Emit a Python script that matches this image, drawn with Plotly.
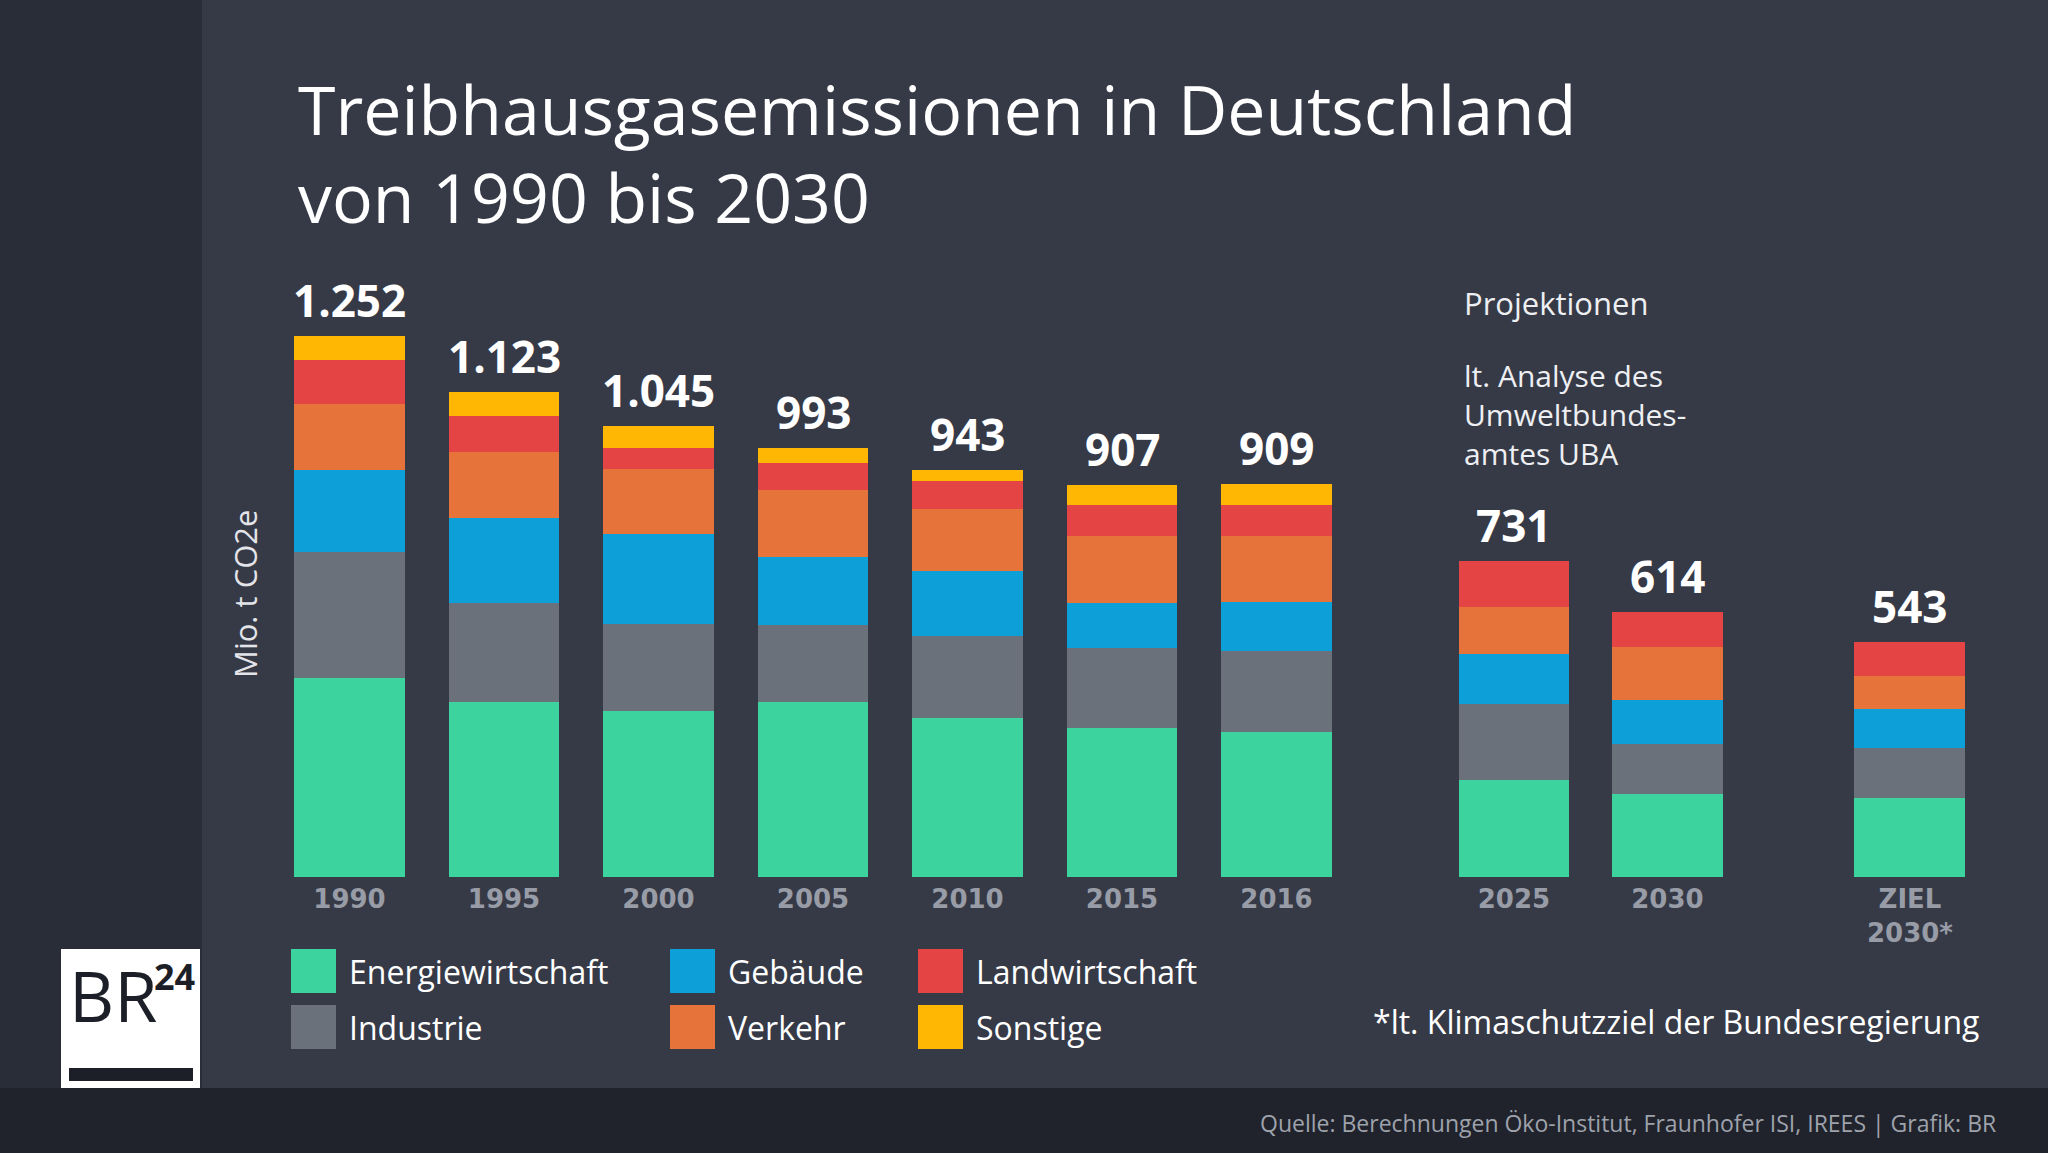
import plotly.graph_objects as go

# ---------------- data ----------------
categories = ["1990", "1995", "2000", "2005", "2010", "2015", "2016", "2025", "2030", "ZIEL<br>2030*"]
totals = [1252, 1123, 1045, 993, 943, 907, 909, 731, 614, 543]

energiewirtschaft = [460, 405, 384, 405, 368, 345, 336, 224, 192, 183]
industrie = [292, 229, 201, 178, 189, 186, 188, 177, 117, 115]
gebaeude = [190, 197, 209, 157, 151, 104, 112, 116, 100, 92]
verkehr = [153, 153, 150, 155, 143, 154, 153, 107, 124, 75]
landwirtschaft = [102, 84, 48, 64, 65, 73, 73, 107, 81, 78]
sonstige = [55, 55, 53, 34, 27, 45, 47, 0, 0, 0]

series_names = ["Energiewirtschaft", "Industrie", "Gebäude", "Verkehr", "Landwirtschaft", "Sonstige"]
series_values = [energiewirtschaft, industrie, gebaeude, verkehr, landwirtschaft, sonstige]
series_colors = ["#3cd39f", "#6b717b", "#0c9fd8", "#e5733a", "#e54444", "#ffb703"]

# ---------------- layout helpers ----------------
W, H = 2048, 1153
FONT = "Open Sans"
x_slots = [0, 1, 2, 3, 4, 5, 6, 7.537, 8.53, 10.1]  # slot positions on the x axis
unit_px = 154.5
x_min = -349.5 / unit_px
x_max = x_min + W / unit_px
base_px = 877
px_per_val = 0.432


def px(x):
    return x / W


def py(y):
    return 1 - y / H


fig = go.Figure()
for name, vals, col in zip(series_names, series_values, series_colors):
    fig.add_trace(go.Bar(
        x=x_slots, y=vals, name=name, width=0.718,
        marker=dict(color=col, line=dict(width=0)),
        showlegend=False, hoverinfo="skip",
    ))

annotations = []
# value labels on top of the bars
for xs, t in zip(x_slots, totals):
    annotations.append(dict(
        x=xs, y=t, xref="x", yref="y", yanchor="bottom", yshift=4,
        text="<b>" + f"{t:,}".replace(",", ".") + "</b>", showarrow=False,
        font=dict(family=FONT, size=44, color="#ffffff"),
    ))

shapes = [
    # left dark strip
    dict(type="rect", xref="paper", yref="paper", x0=0, x1=px(202), y0=0, y1=1,
         fillcolor="#292d38", line=dict(width=0), layer="below"),
    # bottom dark strip
    dict(type="rect", xref="paper", yref="paper", x0=0, x1=1, y0=0, y1=py(1088),
         fillcolor="#20232b", line=dict(width=0), layer="below"),
    # logo
    dict(type="rect", xref="paper", yref="paper", x0=px(61), x1=px(200), y0=py(1088), y1=py(949),
         fillcolor="#ffffff", line=dict(width=0), layer="above"),
    dict(type="rect", xref="paper", yref="paper", x0=px(69), x1=px(193), y0=py(1081), y1=py(1068),
         fillcolor="#1c1f27", line=dict(width=0), layer="above"),
]

# title (two lines in one text block)
annotations.append(dict(x=px(296), y=py(153), xref="paper", yref="paper", xanchor="left", yanchor="middle",
                        text="Treibhausgasemissionen in Deutschland<br>von 1990 bis 2030", showarrow=False,
                        align="left", font=dict(family=FONT, size=68, color="#ffffff")))
# y-axis label
annotations.append(dict(x=px(245), y=py(594), xref="paper", yref="paper", xanchor="center", yanchor="middle",
                        text="Mio. t CO2e", textangle=-90, showarrow=False,
                        font=dict(family=FONT, size=31, color="#e4e5ea")))
# projections notes
annotations.append(dict(x=px(1462), y=py(303), xref="paper", yref="paper", xanchor="left", yanchor="middle",
                        text="Projektionen", showarrow=False,
                        font=dict(family=FONT, size=31, color="#eeeff2")))
annotations.append(dict(x=px(1462), y=py(414), xref="paper", yref="paper", xanchor="left", yanchor="middle",
                        text="lt. Analyse des<br>Umweltbundes-<br>amtes UBA", showarrow=False, align="left",
                        font=dict(family=FONT, size=30, color="#eeeff2")))
# footnote
annotations.append(dict(x=px(1981), y=py(1021), xref="paper", yref="paper", xanchor="right", yanchor="middle",
                        text="*lt. Klimaschutzziel der Bundesregierung", showarrow=False,
                        font=dict(family=FONT, size=32, color="#ffffff")))
# source
annotations.append(dict(x=px(1998), y=py(1123), xref="paper", yref="paper", xanchor="right", yanchor="middle",
                        text="Quelle: Berechnungen Öko-Institut, Fraunhofer ISI, IREES | Grafik: BR", showarrow=False,
                        font=dict(family=FONT, size=23, color="#9ea2ab")))
# logo text
annotations.append(dict(x=px(113), y=py(995), xref="paper", yref="paper", xanchor="center", yanchor="middle",
                        text="BR", showarrow=False,
                        font=dict(family=FONT, size=70, color="#1c1f27")))
annotations.append(dict(x=px(174), y=py(976), xref="paper", yref="paper", xanchor="center", yanchor="middle",
                        text="<b>24</b>", showarrow=False,
                        font=dict(family=FONT, size=36, color="#1c1f27")))

# legend (custom grid 3 columns x 2 rows)
sw_left = [291, 670, 918]
txt_left = [347, 726, 974]
row_mid = [971, 1027]
for i, (name, col) in enumerate(zip(series_names, series_colors)):
    c, r = i // 2, i % 2
    shapes.append(dict(type="rect", xref="paper", yref="paper",
                       x0=px(sw_left[c]), x1=px(sw_left[c] + 45),
                       y0=py(row_mid[r] + 22), y1=py(row_mid[r] - 22),
                       fillcolor=col, line=dict(width=0)))
    annotations.append(dict(x=px(txt_left[c]), y=py(row_mid[r]), xref="paper", yref="paper",
                            xanchor="left", yanchor="middle", text=name, showarrow=False,
                            font=dict(family=FONT, size=32, color="#ffffff")))

fig.update_layout(
    width=W, height=H,
    margin=dict(l=0, r=0, t=0, b=0),
    paper_bgcolor="#363a47", plot_bgcolor="rgba(0,0,0,0)",
    barmode="stack", bargap=0,
    font=dict(family=FONT),
    separators=",.",
    showlegend=False,
    xaxis=dict(range=[x_min, x_max], domain=[0, 1], tickvals=x_slots, ticktext=categories,
               showgrid=False, zeroline=False, showline=False, ticks="", ticklabelstandoff=4,
               tickfont=dict(family="DejaVu Sans", size=26, color="#989ca6", weight="bold"), fixedrange=True),
    yaxis=dict(range=[0, base_px / px_per_val], domain=[py(base_px), 1], visible=False, fixedrange=True),
)
fig.layout.shapes = shapes
fig.layout.annotations = annotations

fig.write_html("out.html")
